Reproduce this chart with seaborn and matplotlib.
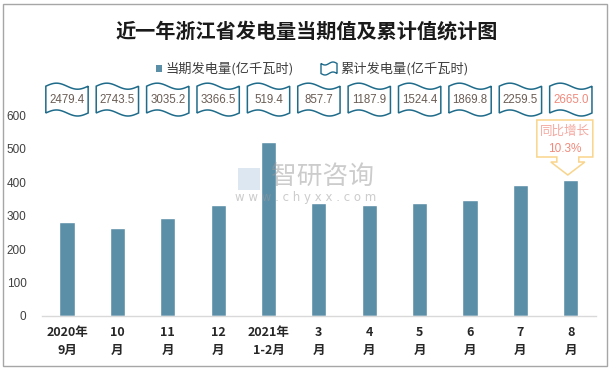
import numpy as np
import pandas as pd
import matplotlib
matplotlib.use("Agg")
import matplotlib.pyplot as plt
from matplotlib.path import Path
from matplotlib.patches import PathPatch, Rectangle, Polygon
import seaborn as sns

sns.set_theme(style="white")
plt.rcParams['font.family'] = ['Noto Sans CJK SC', 'DejaVu Sans']

categories = ["2020年\n9月", "10\n月", "11\n月", "12\n月", "2021年\n1-2月", "3\n月",
              "4\n月", "5\n月", "6\n月", "7\n月", "8\n月"]
monthly = [281.0, 264.1, 291.7, 331.3, 519.4, 338.3, 330.2, 336.5, 345.4, 389.7, 405.5]
cumulative = ["2479.4", "2743.5", "3035.2", "3366.5", "519.4", "857.7",
              "1187.9", "1524.4", "1869.8", "2259.5", "2665.0"]
yticks = [0, 100, 200, 300, 400, 500, 600]
title = "近一年浙江省发电量当期值及累计值统计图"
legend_labels = ["当期发电量(亿千瓦时)", "累计发电量(亿千瓦时)"]
callout_text = ["同比增长", "10.3%"]

BAR = "#5b8fa8"
FLAG_EDGE = "#1f6b8a"
TXT = "#6a5d55"
HIGHLIGHT = "#f08a7c"

W, H = 612, 370
fig = plt.figure(figsize=(W / 100, H / 100), dpi=100)

ax_left, ax_right, ax_bottom_px, ax_top_px = 41.8, 596.0, 316.0, 81.5
ax = fig.add_axes([ax_left / W, (H - ax_bottom_px) / H,
                   (ax_right - ax_left) / W, (ax_bottom_px - ax_top_px) / H])

df = pd.DataFrame({"cat": categories, "val": monthly})
sns.barplot(data=df, x="cat", y="val", color=BAR, width=0.3, ax=ax, saturation=1)

ax.set_xlim(-0.5, len(categories) - 0.5)
ax.set_ylim(0, 700)
ax.set_yticks(yticks)
ax.set_yticklabels([str(v) for v in yticks], fontsize=8.5, color="#404040",
                   family=["Liberation Sans"])
ax.set_xlabel("")
ax.set_ylabel("")
ax.tick_params(axis="x", length=0, pad=7)
ax.tick_params(axis="y", length=0, pad=11)
for lbl in ax.get_xticklabels():
    lbl.set_fontsize(9)
    lbl.set_fontweight("bold")
    lbl.set_color("#262626")
    lbl.set_linespacing(1.5)
for s in ["top", "right", "left"]:
    ax.spines[s].set_visible(False)
ax.spines["bottom"].set_color("#d9d9d9")
ax.spines["bottom"].set_linewidth(1)
ax.grid(False)

def wave_path(xc, yc, w, h, amp, n=40):
    t = np.linspace(0, 1, n)
    x0, x1 = xc - w / 2, xc + w / 2
    top = yc + h / 2 + amp * np.sin(2 * np.pi * t)
    bot = yc - h / 2 + amp * np.sin(2 * np.pi * t)
    xs = x0 + (x1 - x0) * t
    verts = list(zip(xs, top)) + list(zip(xs[::-1], bot[::-1])) + [(xs[0], top[0])]
    codes = [Path.MOVETO] + [Path.LINETO] * (len(verts) - 2) + [Path.CLOSEPOLY]
    return Path(verts, codes)

for i, c in enumerate(cumulative):
    p = wave_path(i, 646, 0.84, 80, 9)
    ax.add_patch(PathPatch(p, facecolor="white", edgecolor=FLAG_EDGE, lw=1.1, clip_on=False, zorder=3))
    col = HIGHLIGHT if i == len(cumulative) - 1 else TXT
    ax.text(i, 646, c, ha="center", va="center", fontsize=8.3, color=col,
            family=["Liberation Sans"], zorder=4, clip_on=False)

def px2d(px, py):
    return ((px - 67) / 50.4, (316 - py) / 0.335)

pts_px = [(537, 120), (593, 120), (593, 157), (579, 157), (579, 162), (585, 162),
          (568, 175), (551, 162), (557, 162), (557, 157), (537, 157)]
pts = [px2d(*p) for p in pts_px]
ax.add_patch(Polygon(pts, closed=True, facecolor="white", edgecolor="#f9d48c",
                     lw=1.1, clip_on=False, zorder=3))
cx = px2d(565, 0)[0]
ax.text(cx, px2d(0, 131)[1], callout_text[0], ha="center", va="center",
        fontsize=9, color="#f4a8a0", zorder=4)
ax.text(cx, px2d(0, 149)[1], callout_text[1], ha="center", va="center",
        fontsize=8.5, color="#f08a7c", zorder=4, family=["Liberation Sans"])

# watermark
fig.text(322 / W, 1 - 177 / H, "智研咨询", ha="center", va="center", fontsize=18.5,
         color="#9a9a9a", alpha=0.5, zorder=10)
fig.text(306 / W, 1 - 198 / H, "w w w . c h y x x . c o m", ha="center", va="center",
         fontsize=8.5, color="#9a9a9a", alpha=0.5, family=["DejaVu Sans"], zorder=10)
fig.patches.append(Rectangle((238 / W, 1 - 190 / H), 22 / W, 22 / H, transform=fig.transFigure,
                             facecolor="#a9c3dd", alpha=0.4, edgecolor="none", zorder=10))

fig.text(307 / W, 1 - 31 / H, title, ha="center", va="center", fontsize=14.5,
         fontweight="bold", color="#1a1a1a")

fig.patches.append(Rectangle((156 / W, 1 - 72 / H), 6 / W, 7 / H, transform=fig.transFigure,
                             facecolor=BAR, edgecolor="none"))
fig.text(165 / W, 1 - 68.5 / H, legend_labels[0], ha="left", va="center", fontsize=9.5, color="#404040")
t = np.linspace(0, 1, 20)
lx0, lx1 = 321, 337
ly_top, ly_bot = 63.5, 73.5
xs = lx0 + (lx1 - lx0) * t
topy = ly_top + 1.5 * np.sin(2 * np.pi * t)
boty = ly_bot + 1.5 * np.sin(2 * np.pi * t)
verts = list(zip(xs, topy)) + list(zip(xs[::-1], boty[::-1]))
verts = [(vx / W, 1 - vy / H) for vx, vy in verts]
fig.patches.append(Polygon(verts, closed=True, transform=fig.transFigure,
                           facecolor="white", edgecolor=FLAG_EDGE, lw=1))
fig.text(340 / W, 1 - 68.5 / H, legend_labels[1], ha="left", va="center", fontsize=9.5, color="#404040")

fig.patches.append(Rectangle((3 / W, 4 / H), 604 / W, 362 / H, transform=fig.transFigure,
                             facecolor="none", edgecolor="#a6a6a6", lw=1))

fig.savefig("out.png", dpi=100)
